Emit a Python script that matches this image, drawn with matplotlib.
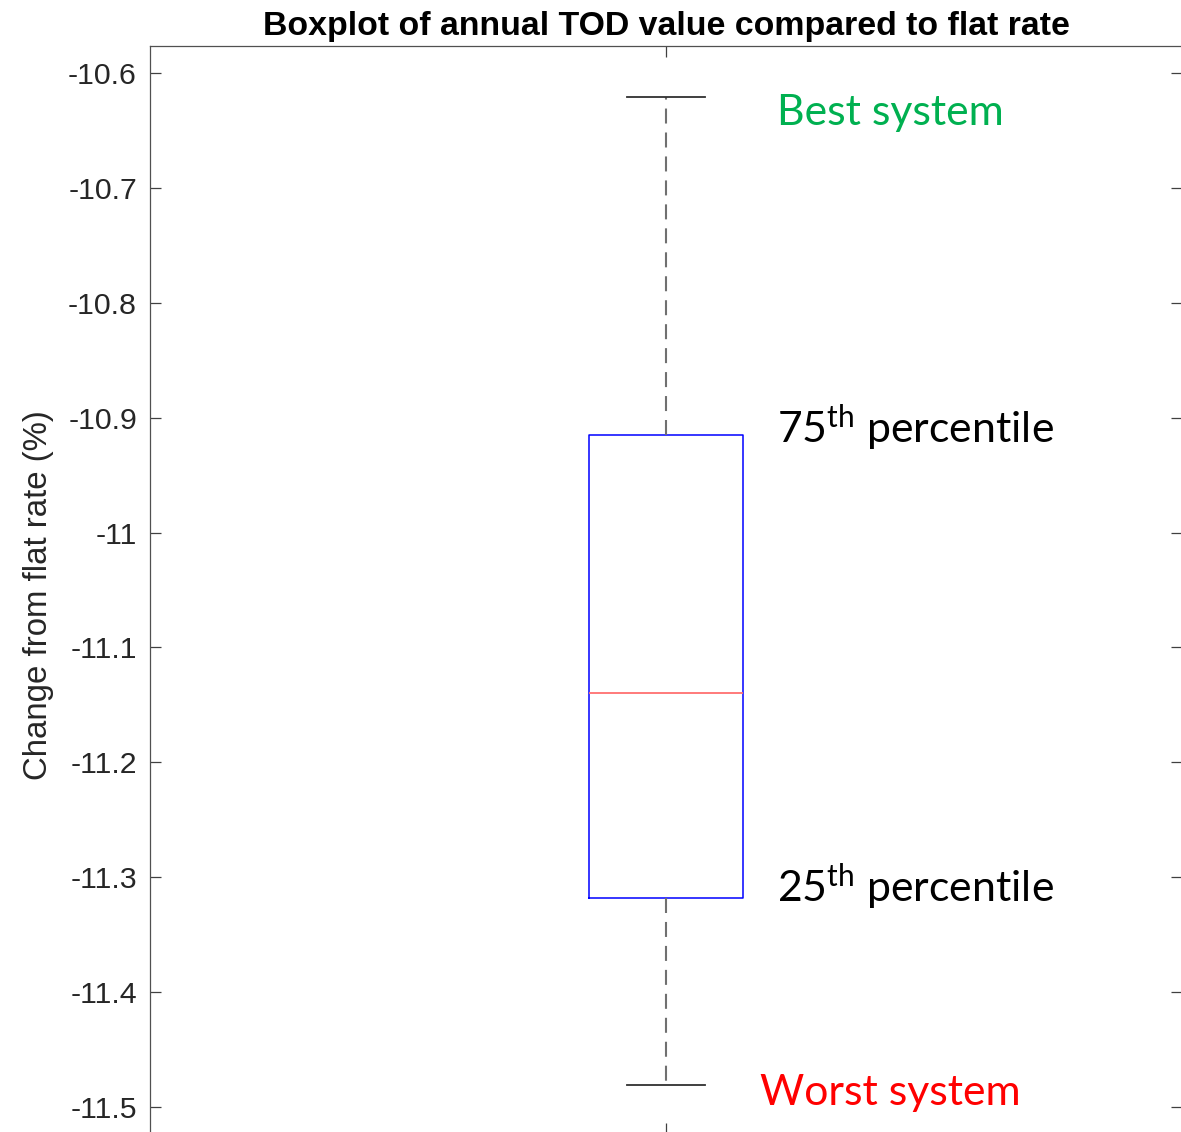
import matplotlib
matplotlib.use("Agg")
import matplotlib.pyplot as plt
from matplotlib.ticker import FixedLocator, FixedFormatter

# ---- data ----
group_positions = [1]
whisker_low = [-11.481]
q1_values = [-11.318]
median_values = [-11.140]
q3_values = [-10.915]
whisker_high = [-10.621]

ytick_values = [-11.5, -11.4, -11.3, -11.2, -11.1, -11.0, -10.9, -10.8, -10.7, -10.6]
ytick_labels = ['-11.5', '-11.4', '-11.3', '-11.2', '-11.1', '-11', '-10.9', '-10.8', '-10.7', '-10.6']

annot_texts = ['Best system', r'75$^{\mathrm{th}}$ percentile', r'25$^{\mathrm{th}}$ percentile', 'Worst system']
annot_y = [-10.6453, -10.922, -11.3215, -11.4982]
annot_x = [1.1076, 1.1076, 1.1076, 1.091]
annot_colors = ['#00b050', 'black', 'black', '#ff0000']

plt.rcParams['axes.unicode_minus'] = False
plt.rcParams['mathtext.fontset'] = 'custom'
plt.rcParams['mathtext.rm'] = 'Lato'
plt.rcParams['mathtext.it'] = 'Lato:italic'
plt.rcParams['mathtext.bf'] = 'Lato:bold'

W, H = 1181, 1132
fig = plt.figure(figsize=(W / 100, H / 100), dpi=100)
ax_left = 150 / W
ax_right = 1182 / W
ax_top = 1 - 46 / H
ax_bottom = 1 - 1134 / H
ax = fig.add_axes([ax_left, ax_bottom, ax_right - ax_left, ax_top - ax_bottom])

stats = []
for i in range(len(group_positions)):
    stats.append(dict(whislo=whisker_low[i], q1=q1_values[i], med=median_values[i],
                      q3=q3_values[i], whishi=whisker_high[i], fliers=[]))

ax.bxp(stats, positions=group_positions, widths=0.15, showfliers=False,
       boxprops=dict(color='#0000ff', linewidth=1.1),
       medianprops=dict(color='#ff7070', linewidth=1.3),
       whiskerprops=dict(color='#707070', linewidth=1.5, linestyle=(0, (7.2, 4.3))),
       capprops=dict(color='#303030', linewidth=1.3))

ax.set_xlim(0.5, 1.5)
ax.set_ylim(-11.5235, -10.5765)

ax.yaxis.set_major_locator(FixedLocator(ytick_values))
ax.yaxis.set_major_formatter(FixedFormatter(ytick_labels))
ax.set_xticks(group_positions)
ax.set_xticklabels([''])

ax.tick_params(axis='both', direction='in', length=8, width=0.9, color='#404040',
               top=True, right=True, labelsize=21.8, labelcolor='#262626', pad=9.4)
for lab in ax.get_yticklabels():
    lab.set_fontfamily('Liberation Sans')
for sp in ax.spines.values():
    sp.set_color('#505050')
    sp.set_linewidth(0.9)

ax.set_title('Boxplot of annual TOD value compared to flat rate', fontsize=24.4,
             fontweight='bold', family='Liberation Sans', color='black', pad=8.0)
ax.set_ylabel('Change from flat rate (%)', fontsize=23.8, family='Liberation Sans',
              color='#262626', labelpad=10)
ax.yaxis.label.set_y(0.4954)

for t, x, y, c in zip(annot_texts, annot_x, annot_y, annot_colors):
    ax.text(x, y, t, color=c, fontsize=30.8, family='Lato', va='baseline', ha='left')

fig.savefig('out.png', dpi=100)
